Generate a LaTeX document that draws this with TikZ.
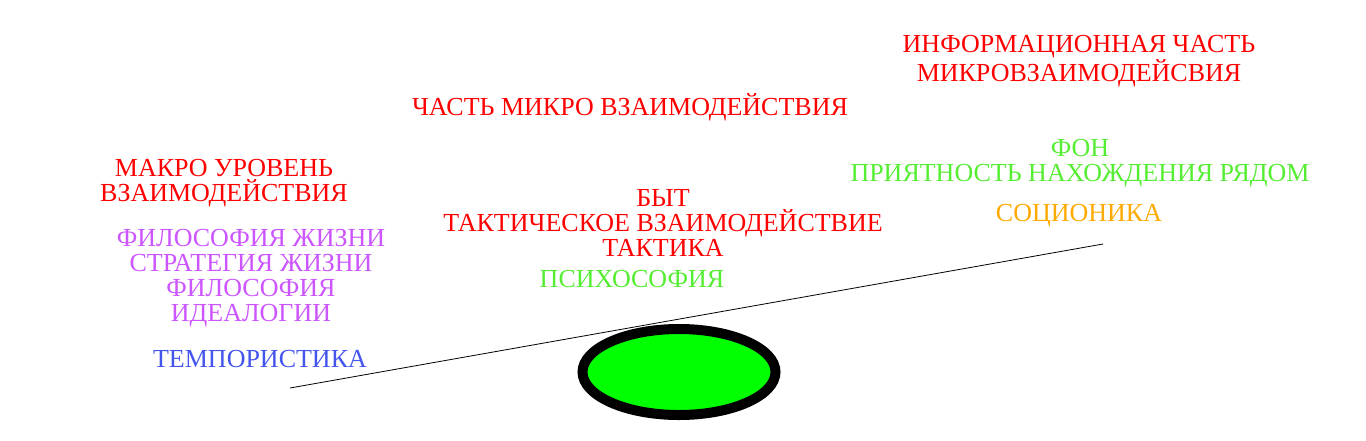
\documentclass[tikz,border=0pt]{standalone}
\usepackage{fontspec}
\setmainfont{Liberation Serif}
\usepackage{xcolor}
\usetikzlibrary{positioning,shapes.geometric}
\definecolor{levelRed}{HTML}{FF0000}
\definecolor{lifeViolet}{HTML}{CC55FF}
\definecolor{tempoBlue}{HTML}{4455EE}
\definecolor{psyGreen}{HTML}{55EE33}
\definecolor{socioOrange}{HTML}{FFAA00}
\definecolor{baseGreen}{HTML}{00FF00}
\begin{document}
\begin{tikzpicture}[
  x=1pt,y=-1pt,
  every node/.style={font=\fontsize{26}{25}\selectfont, align=center, inner sep=0pt},
  levelbox/.style={text=levelRed},
  lifebox/.style={text=lifeViolet},
  tempobox/.style={text=tempoBlue},
  psybox/.style={text=psyGreen},
  sociobox/.style={text=socioOrange},
  fulcrum/.style={ellipse,draw=black,line width=10pt,fill=baseGreen,minimum width=193pt,minimum height=86pt},
  lever/.style={line width=0.8pt,color=black}
]
\useasboundingbox (0,0) rectangle (1366,440);

% Левая часть: макро уровень
\node[levelbox] (macro) at (224,183) {МАКРО УРОВЕНЬ\\ВЗАИМОДЕЙСТВИЯ};
\node[lifebox] (life) at (251,278) {ФИЛОСОФИЯ ЖИЗНИ\\СТРАТЕГИЯ ЖИЗНИ\\ФИЛОСОФИЯ\\ИДЕАЛОГИИ};
\node[tempobox] (tempo) at (260,359) {ТЕМПОРИСТИКА};

% Середина: микро взаимодействие
\node[levelbox] (micro) at (630,107) {ЧАСТЬ МИКРО ВЗАИМОДЕЙСТВИЯ};
\node[levelbox] (tactic) at (663,223) {БЫТ\\ТАКТИЧЕСКОЕ ВЗАИМОДЕЙСТВИЕ\\ТАКТИКА};
\node[psybox] (psycho) at (632,279) {ПСИХОСОФИЯ};

% Правая часть: информационная часть
\node[levelbox] (info) at (1079,61) {ИНФОРМАЦИОННАЯ ЧАСТЬ\\МИКРОВЗАИМОДЕЙСВИЯ};
\node[psybox] (fon) at (1080,163) {ФОН\\ПРИЯТНОСТЬ НАХОЖДЕНИЯ РЯДОМ};
\node[sociobox] (socio) at (1079,216) {СОЦИОНИКА};

% Рычаг и опора
\node[fulcrum] (base) at (679,372) {};
\coordinate (leverL) at (290,388);
\coordinate (leverR) at (1103,244);
\draw[lever] (leverL) -- (leverR);
\end{tikzpicture}
\end{document}
